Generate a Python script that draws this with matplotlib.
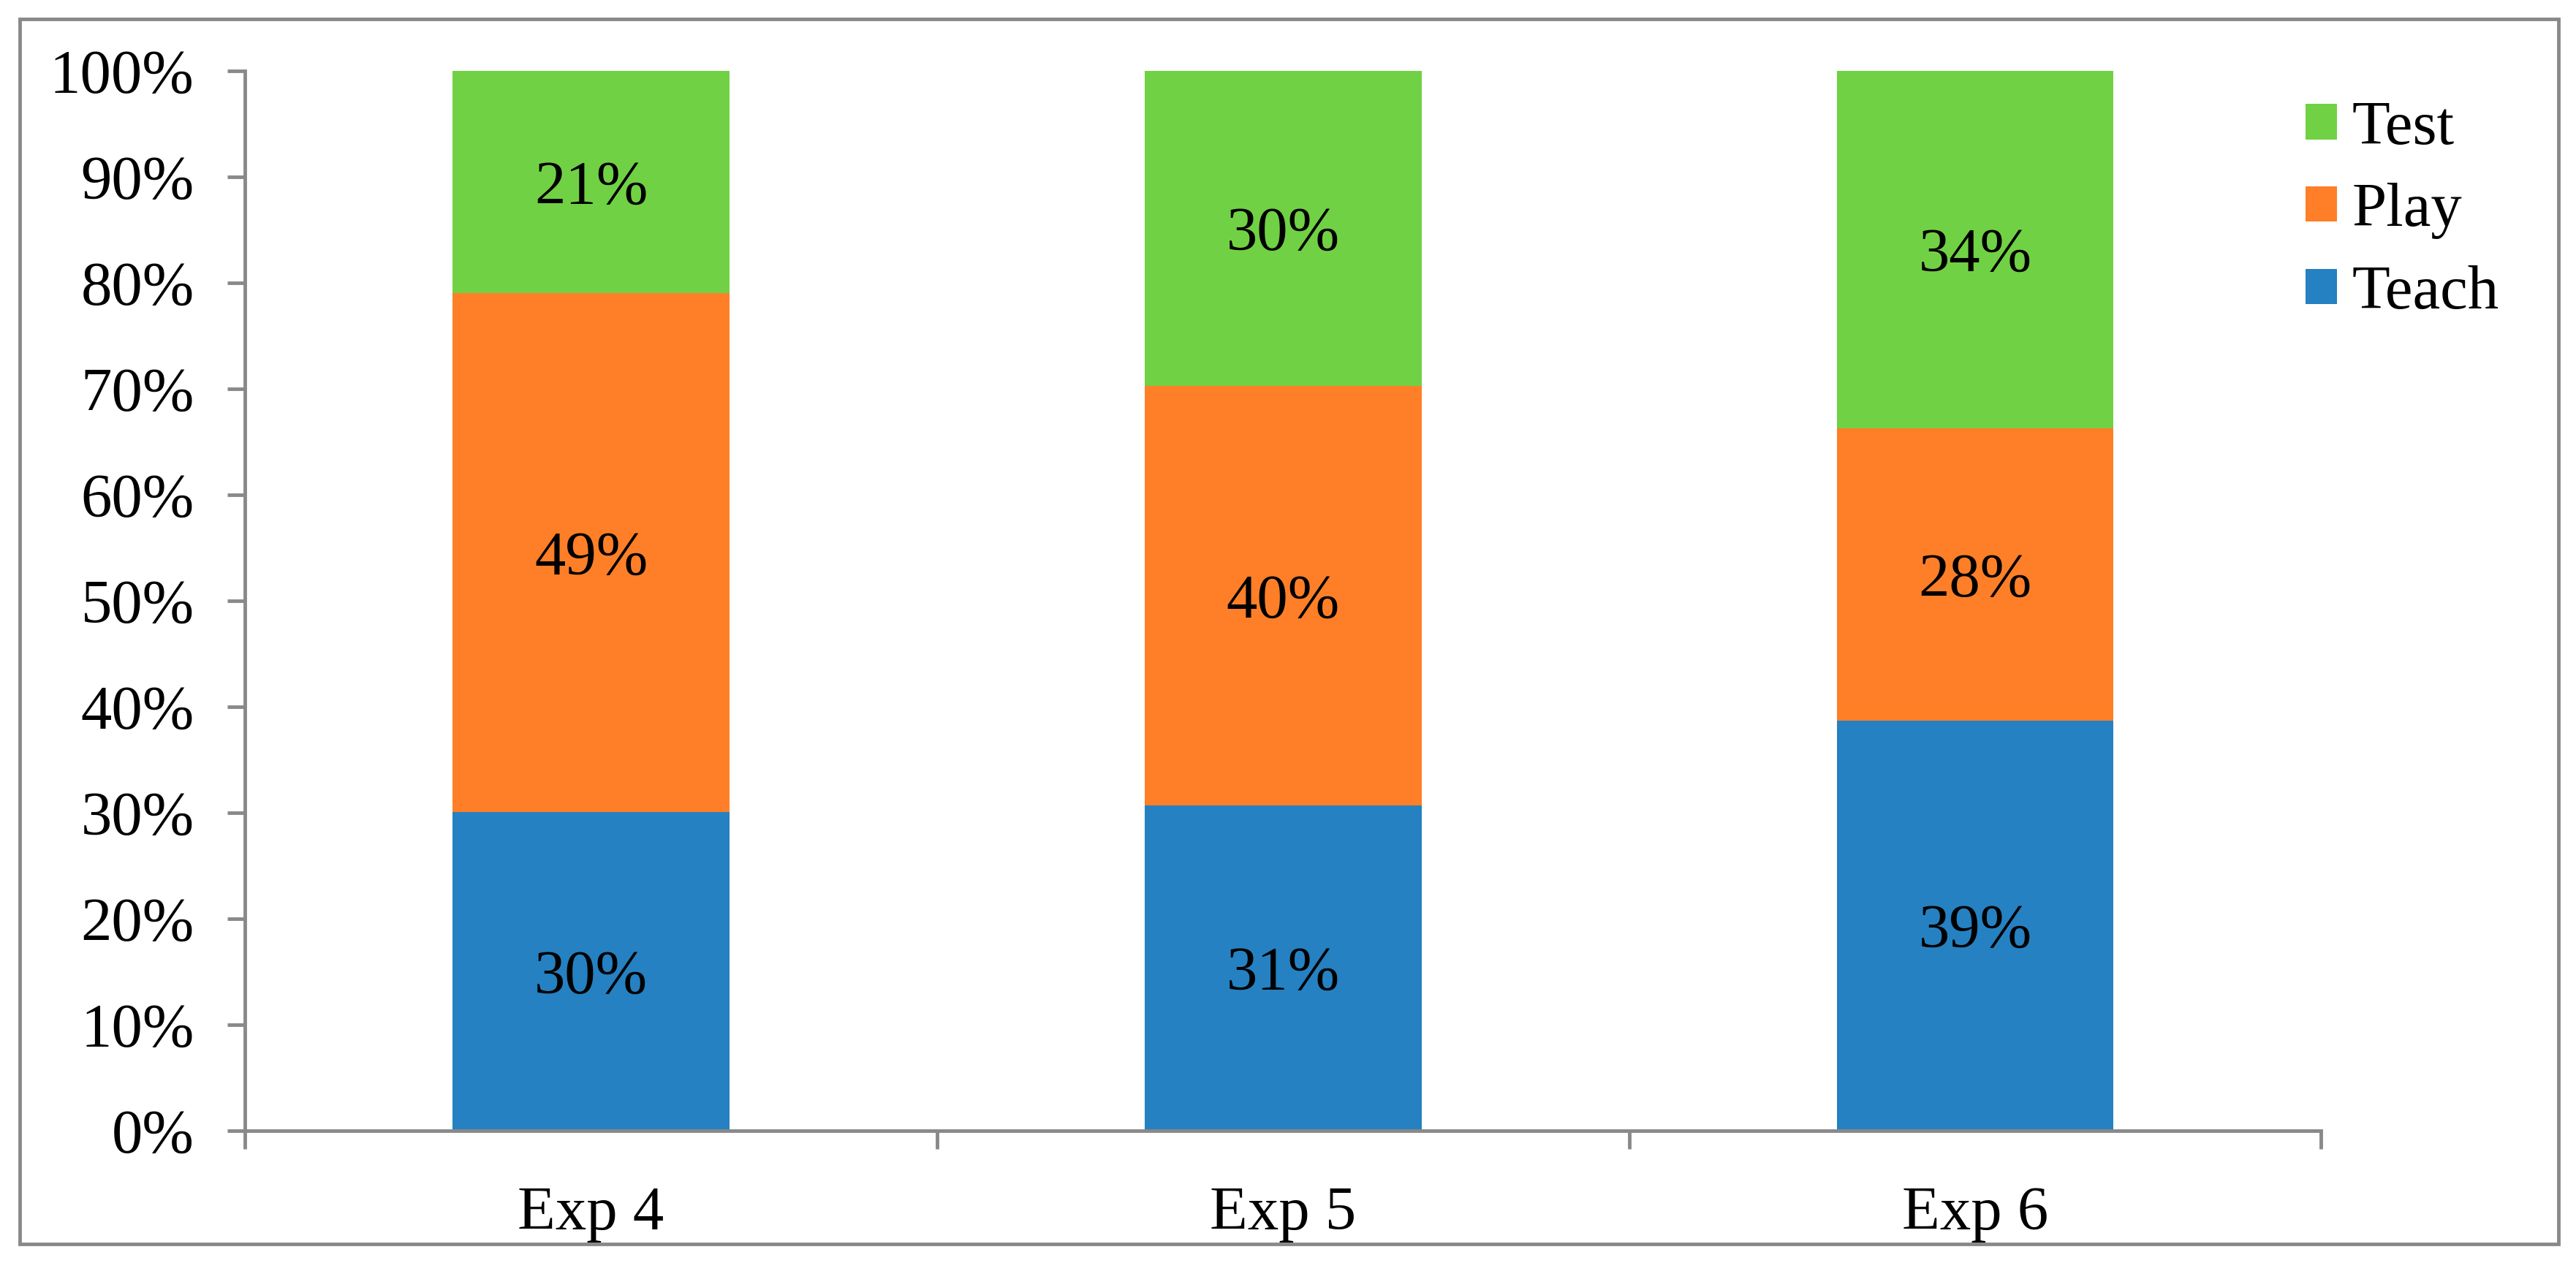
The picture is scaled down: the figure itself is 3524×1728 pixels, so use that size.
import numpy as np
import matplotlib
matplotlib.use("Agg")
import matplotlib.pyplot as plt
from matplotlib.patches import Rectangle

plt.rcParams['font.family'] = ['Liberation Serif', 'DejaVu Serif']

categories = ["Exp 4", "Exp 5", "Exp 6"]
series = ["Teach", "Play", "Test"]
teach = [30.1, 30.7, 38.7]
play = [48.9, 39.6, 27.6]
test = [21.0, 29.7, 33.7]
labels_teach = ["30%", "31%", "39%"]
labels_play = ["49%", "40%", "28%"]
labels_test = ["21%", "30%", "34%"]
colors = ["#2581c1", "#fe7f27", "#71d144"]
gray = "#898989"
fs = 61

fig = plt.figure(figsize=(35.24, 17.28), dpi=100)
ax = fig.add_axes([0.0951, 0.1047, 0.806, 0.8392])

x = np.arange(len(categories))
bottom = np.zeros(len(categories))
for vals, labs, col, name in zip([teach, play, test],
                                 [labels_teach, labels_play, labels_test],
                                 colors, series):
    bars = ax.bar(x, vals, 0.4, bottom=bottom, color=col, label=name)
    txts = ax.bar_label(bars, labels=labs, label_type="center", fontsize=fs, color="black")
    for t in txts:
        t.set_va("center_baseline")
    bottom += np.array(vals)

ax.set_xlim(-0.5, 2.5)
ax.set_ylim(0, 100)
ax.set_yticks(np.arange(0, 101, 10))
ax.set_yticklabels([f"{v}%" for v in range(0, 101, 10)])
ax.set_xticks(x)
ax.set_xticklabels(categories)
ax.set_xticks([-0.5, 0.5, 1.5, 2.5], minor=True)

for s in ["top", "right"]:
    ax.spines[s].set_visible(False)
for s in ["left", "bottom"]:
    ax.spines[s].set_color(gray)
    ax.spines[s].set_linewidth(3.5)

ax.tick_params(axis="y", which="major", direction="out", length=17, width=3.5,
               color=gray, labelsize=fs, pad=33)
ax.tick_params(axis="x", which="major", length=0, labelsize=fs, pad=55)
ax.tick_params(axis="x", which="minor", direction="out", length=18, width=3.5, color=gray)

handles, labs = ax.get_legend_handles_labels()
fig.legend(handles[::-1], labs[::-1], loc="upper left",
           bbox_to_anchor=(0.8855, 0.94), frameon=False, fontsize=fs,
           handlelength=0.5, handleheight=0.5, handletextpad=0.25,
           labelspacing=0.42, borderaxespad=0)

fig.patches.append(Rectangle((0.0077, 0.015), 0.9855, 0.97, transform=fig.transFigure,
                             fill=False, edgecolor=gray, linewidth=3.5, zorder=10))

fig.savefig("out.png", dpi=100, facecolor="white")
